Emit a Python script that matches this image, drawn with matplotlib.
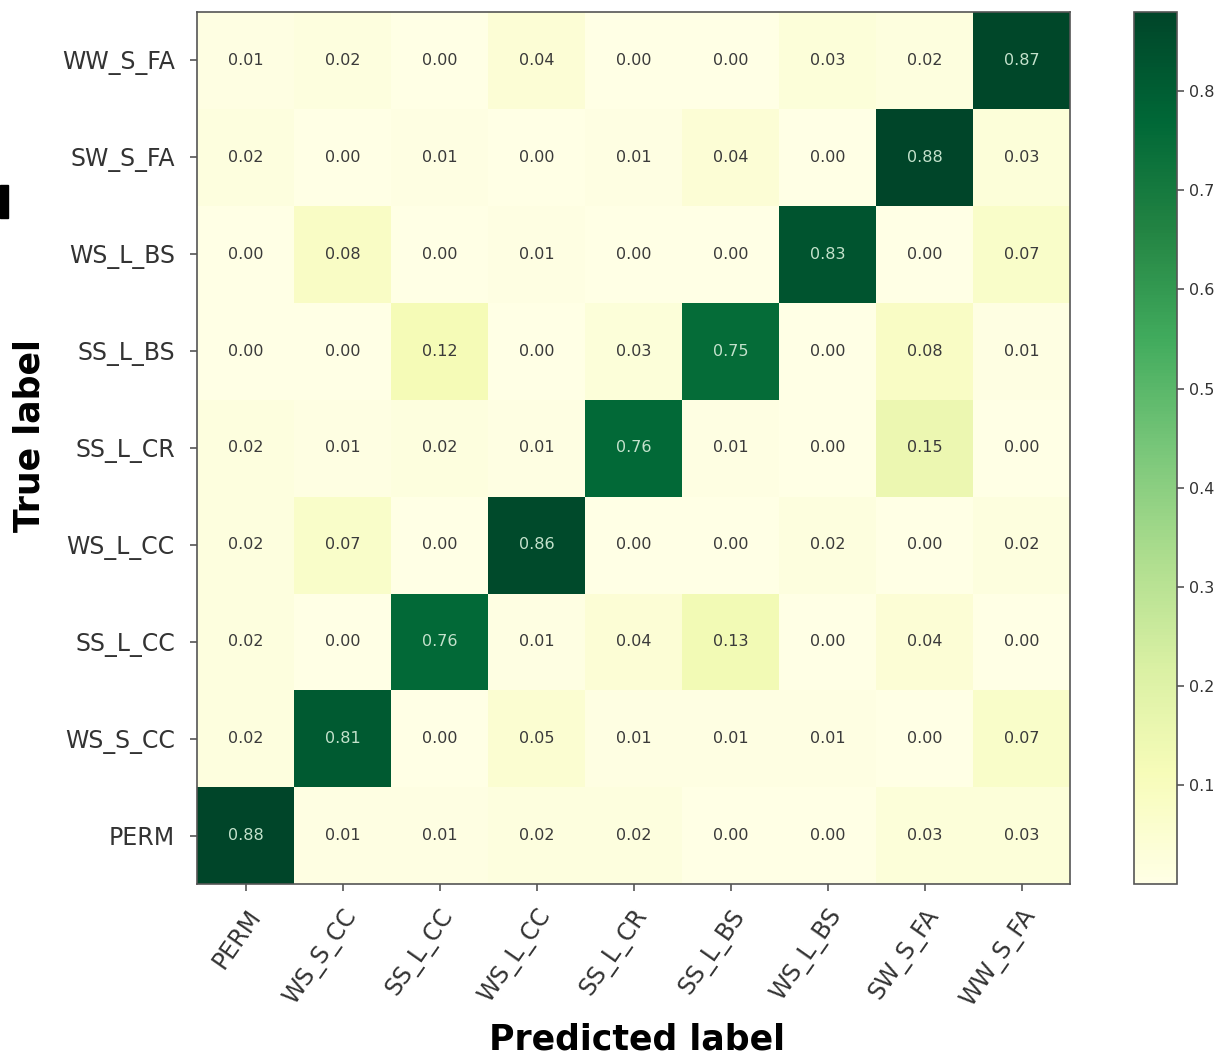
import numpy as np
import matplotlib
matplotlib.use("Agg")
import matplotlib.pyplot as plt
from matplotlib.patches import Rectangle

plt.rcParams["font.family"] = ["DejaVu Sans"]

classes = ["PERM", "WS_S_CC", "SS_L_CC", "WS_L_CC", "SS_L_CR",
           "SS_L_BS", "WS_L_BS", "SW_S_FA", "WW_S_FA"]

# rows = true label (PERM first), columns = predicted label
row_PERM    = [0.88, 0.01, 0.01, 0.02, 0.02, 0.00, 0.00, 0.03, 0.03]
row_WS_S_CC = [0.02, 0.81, 0.00, 0.05, 0.01, 0.01, 0.01, 0.00, 0.07]
row_SS_L_CC = [0.02, 0.00, 0.76, 0.01, 0.04, 0.13, 0.00, 0.04, 0.00]
row_WS_L_CC = [0.02, 0.07, 0.00, 0.86, 0.00, 0.00, 0.02, 0.00, 0.02]
row_SS_L_CR = [0.02, 0.01, 0.02, 0.01, 0.76, 0.01, 0.00, 0.15, 0.00]
row_SS_L_BS = [0.00, 0.00, 0.12, 0.00, 0.03, 0.75, 0.00, 0.08, 0.01]
row_WS_L_BS = [0.00, 0.08, 0.00, 0.01, 0.00, 0.00, 0.83, 0.00, 0.07]
row_SW_S_FA = [0.02, 0.00, 0.01, 0.00, 0.01, 0.04, 0.00, 0.88, 0.03]
row_WW_S_FA = [0.01, 0.02, 0.00, 0.04, 0.00, 0.00, 0.03, 0.02, 0.87]

cbar_ticks = [0.1, 0.2, 0.3, 0.4, 0.5, 0.6, 0.7, 0.8]

cm = np.array([row_PERM, row_WS_S_CC, row_SS_L_CC, row_WS_L_CC, row_SS_L_CR,
               row_SS_L_BS, row_WS_L_BS, row_SW_S_FA, row_WW_S_FA])

fig = plt.figure(figsize=(12.16, 10.55), dpi=100)
ax = fig.add_axes([197/1216, 1-884/1055, 873/1216, 872/1055])
cax = fig.add_axes([1134/1216, 1-884/1055, 43/1216, 872/1055])

im = ax.imshow(cm, cmap="YlGn", origin="lower", vmin=0.0, vmax=cm.max(),
               interpolation="nearest", aspect="auto")

thresh = cm.max() / 2
n = len(classes)
for i in range(n):
    for j in range(n):
        light = cm[i, j] > thresh
        ax.text(j, i, f"{cm[i, j]:.2f}", ha="center", va="center",
                fontsize=11.5,
                color="#c4e2cc" if light else "#3a3a3a")

ax.set_xticks(range(n))
ax.set_yticks(range(n))
ax.set_xticklabels(classes, rotation=55, ha="right", rotation_mode="anchor",
                   fontsize=17, color="#333333")
ax.set_yticklabels(classes, fontsize=17, color="#333333")
ax.tick_params(axis="both", colors="#555555", labelcolor="#333333",
               length=5, width=1.2)
ax.tick_params(axis="y", pad=11)
ax.tick_params(axis="x", pad=10)
for s in ax.spines.values():
    s.set_color("#555555")
    s.set_linewidth(1.2)

fig.text(637/1216, 1-1040/1055, "Predicted label", ha="center", va="center",
         fontsize=25, fontweight="bold", color="black")
fig.text(30/1216, 1-436/1055, "True label", ha="center", va="center",
         rotation=90, fontsize=25, fontweight="bold", color="black")

cb = fig.colorbar(im, cax=cax, ticks=cbar_ticks)
cb.ax.tick_params(labelsize=11.5, colors="#555555", labelcolor="#333333",
                  length=5, width=1.2)
cb.outline.set_edgecolor("#555555")
cb.outline.set_linewidth(1.2)

# black mark at the left edge
fig.add_artist(Rectangle((0, 1-218/1055), 8/1216, 33/1055,
                         transform=fig.transFigure, color="black"))

fig.savefig("out.png", dpi=100)
